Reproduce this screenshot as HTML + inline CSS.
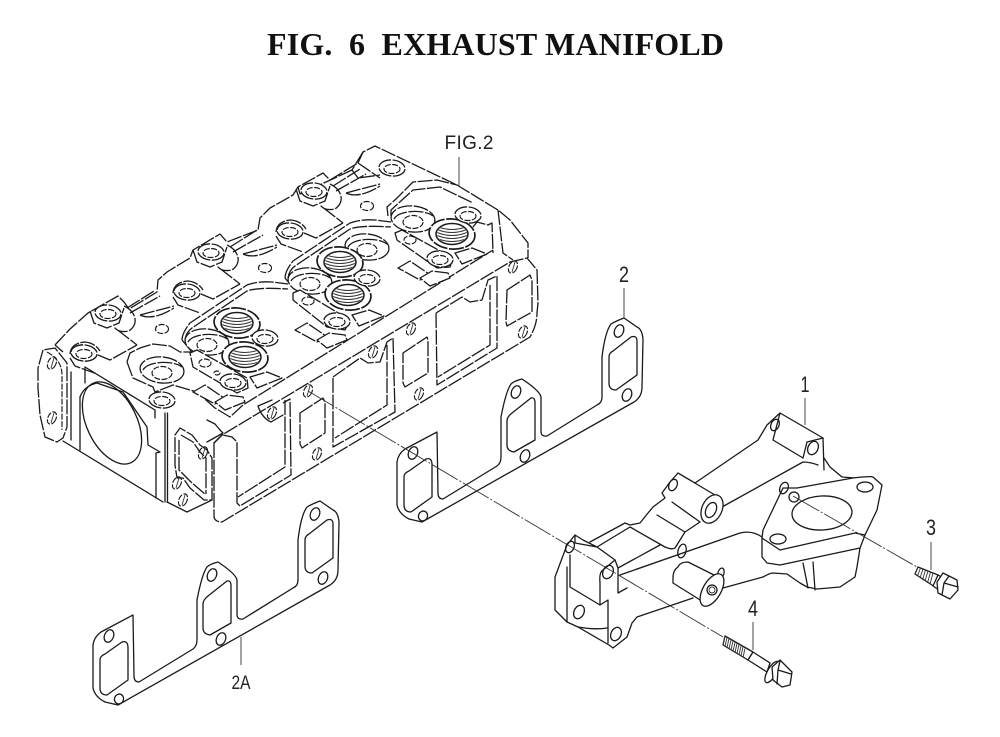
<!DOCTYPE html>
<html><head><meta charset="utf-8"><style>
html,body{margin:0;padding:0;background:#fff}
svg{display:block}
.h{fill:none;stroke:#1a1a1a;stroke-width:1.3;stroke-dasharray:15 1.6;stroke-linejoin:round}
.d{fill:none;stroke:#1a1a1a;stroke-width:1.15;stroke-dasharray:6 1.5}
.s{fill:none;stroke:#1a1a1a;stroke-width:1.3;stroke-linejoin:round;stroke-linecap:round}
.t{fill:none;stroke:#333;stroke-width:.9}
.a{fill:none;stroke:#333;stroke-width:.9;stroke-dasharray:30 2 2 2}
.w{fill:#fff;stroke:#1a1a1a;stroke-width:1.3;stroke-linejoin:round}
.wh{fill:#fff;stroke:#1a1a1a;stroke-width:1.3;stroke-linejoin:round;stroke-dasharray:15 1.6}
.l{font-family:"Liberation Sans",sans-serif;font-size:22px;fill:#222;text-anchor:middle}
</style></head><body>
<svg width="1000" height="737" viewBox="0 0 1000 737" xmlns="http://www.w3.org/2000/svg">
<defs>
<clipPath id="c"><ellipse rx="15" ry="9.5"/></clipPath>
<g id="tp"><ellipse class="wh" rx="23" ry="15" transform="rotate(6)" style="stroke-width:1.7"/><ellipse class="s" rx="16" ry="10.5" style="stroke-width:1.5"/>
<g clip-path="url(#c)" fill="none" stroke="#333" stroke-width="1"><path d="M-16-8q16 7 32 0M-16-5q16 7 32 0M-16-2q16 7 32 0M-16 1q16 7 32 0M-16 4q16 7 32 0M-16 7q16 7 32 0"/></g></g>
<g id="rg"><ellipse class="wh" rx="22" ry="13" transform="rotate(6)"/><path class="h" d="M-19 0C-14-9 11-10 20-3"/><ellipse class="d" cy="3" rx="10" ry="6.5"/></g>
<g id="sr"><ellipse class="wh" rx="13" ry="8" transform="rotate(5)"/><ellipse class="d" cy="1" rx="8" ry="4.5"/></g>
<g id="ho"><ellipse class="d" rx="4" ry="6.5" transform="rotate(25)"/><path class="t" d="M-1 5L2-5"/></g>
<g id="ru">
<path class="h" d="M193 250L197 262L210 267L222 262L227 247"/>
<path class="h" d="M227 245C238 250 243 262 232 270Q222 272 218 267L240 284"/>
<path class="h" d="M230 247L257 230M233 252L263 235M243 254Q258 250 277 245M243 254Q256 260 277 247"/>
<use href="#sr" x="211" y="252"/>
<path class="h" d="M173 293Q174 282 188 281Q198 282 203 290M201 294L213 299L240 284M173 297L178 305L200 313"/>
<use href="#sr" x="187" y="292"/>
</g>
<g id="dl">
<path class="h" d="M182 340Q182 333 190 323L247 285Q258 281 272 282L288 284"/>
<path class="h" d="M185 340Q186 331 195 326L247 291Q258 287 288 289"/>
<path class="h" d="M182 340L192 352"/>
</g>
<g id="lp">
<path class="wh" d="M193 392L205 385L224 398L215 404Z"/>
<path class="wh" d="M215 402L227 395L243 397L245 402L225 410Z"/>
<path class="wh" d="M250 377L267 372L282 378L257 388Z"/>
</g>
<g id="gk">
<path class="s" d="M133 615L101 632Q94 637 93 645L93 688Q95 697 105 702L118 705L330 585Q338 580 338 570L339 522Q338 512 333 510L320 501Q312 504 307 507Q301 515 298 540L298 580Q298 586 293 588L243 619Q237 620 237 614L237 580Q236 574 218 562Q210 564 207 567Q202 574 197 600L197 640Q197 646 193 649L139 682Q134 682 134 676Z"/>
<path class="s" d="M105 654L122 642Q128 640 128 648L128 680L107 695Q100 695 100 688L100 660Q100 656 105 654ZM208 596L227 581Q231 580 231 586L231 623L210 635Q203 634 203 628L203 604Q203 600 208 596ZM309 534L327 520Q333 518 333 524L333 558L312 573Q305 573 305 566L305 540Q305 536 309 534Z"/>
<g class="s"><ellipse cx="109" cy="636" rx="4.5" ry="6.5" transform="rotate(22 109 636)"/><ellipse cx="212" cy="575" rx="4.5" ry="6.5" transform="rotate(22 212 575)"/><ellipse cx="221" cy="639" rx="4.5" ry="6.5" transform="rotate(22 221 639)"/><ellipse cx="315" cy="514" rx="4.5" ry="6.5" transform="rotate(22 315 514)"/><ellipse cx="323" cy="578" rx="4.5" ry="6.5" transform="rotate(22 323 578)"/><ellipse cx="119" cy="699" rx="4.5" ry="5" transform="rotate(22 119 699)"/></g>
</g>
</defs>
<rect width="1000" height="737" fill="#fff"/>
<text x="267" y="55" xml:space="preserve" textLength="457" lengthAdjust="spacing" style="font-family:'Liberation Serif',serif;font-weight:bold;font-size:32px;fill:#111;white-space:pre">FIG.  6  EXHAUST MANIFOLD</text>

<!-- HEAD -->
<g>
<!-- rear ridge -->
<path class="h" d="M55 345L70 329L88 313L118 296L124 302L129 309L157 292L158 280L167 272L190 258L193 250L220 234L227 242L258 230L260 218L270 208L293 195L298 187L323 173L330 180L358 163L363 152L375 146L457 185L493 207L498 210L510 220L528 243L528 258"/>
<path class="h" d="M55 345L63 352M363 152L352 170L358 178L380 175M358 163L380 178M298 187L300 194L352 170"/>
<use href="#ru"/><use href="#ru" x="-103" y="61"/><use href="#ru" x="103" y="-61"/>
<use href="#sr" x="392" y="168"/>
<ellipse class="d" cx="162" cy="329" rx="6.5" ry="4.5"/><ellipse class="d" cx="265" cy="268" rx="6.5" ry="4.5"/><ellipse class="d" cx="367" cy="206" rx="6.5" ry="4.5"/>
<!-- decks -->
<use href="#dl"/><use href="#dl" x="103" y="-62"/>
<path class="h" d="M388 216L387 207L396 199L413 182L437 180L457 185M391 216L391 210L413 190L440 187L473 203M473 227L477 222L488 225L492 223L493 253M498 210L503 253L513 260"/>
<path class="h" d="M127 362L130 353L140 348L153 344L170 346L180 352L192 352M127 362L133 378L153 387L155 392L173 385L197 392L215 408L230 417L243 405L493 250"/>
<use href="#lp"/><use href="#lp" x="102" y="-62"/><use href="#lp" x="205" y="-124"/>
<use href="#rg" x="162" y="370"/><use href="#rg" x="207" y="342"/><use href="#rg" x="310" y="281"/><use href="#rg" x="367" y="247"/><use href="#rg" x="413" y="219"/>
<use href="#tp" x="245" y="357"/><use href="#tp" x="237" y="323"/><use href="#tp" x="340" y="262"/><use href="#tp" x="348" y="295"/><use href="#tp" x="452" y="234"/>
<use href="#sr" x="265" y="338"/><use href="#sr" x="367" y="278"/><use href="#sr" x="468" y="215"/>
<!-- plates -->
<path class="wh" d="M190 353L197 350L247 378L248 388L237 393L193 367Z"/>
<path class="wh" d="M293 293L300 290L350 320L345 330L327 327L293 300Z"/>
<path class="wh" d="M395 233L402 230L453 258L450 267L437 268L397 240Z"/>
<use href="#sr" x="233" y="382"/><use href="#sr" x="337" y="321"/><use href="#sr" x="440" y="259"/>
<ellipse class="d" cx="205" cy="363" rx="6" ry="4"/><ellipse class="d" cx="308" cy="301" rx="6" ry="4"/><ellipse class="d" cx="410" cy="240" rx="6" ry="4"/><ellipse class="d" cx="217" cy="373" rx="3" ry="2"/>
<!-- left end -->
<path class="h" d="M43 350L38 368L38 388L40 415L45 437L57 442L63 438L67 427L67 363L55 348Z"/>
<path class="d" d="M47 352Q62 360 62 375V430"/>
<use href="#ho" x="52" y="363"/><use href="#ho" x="52" y="418"/>
<path class="s" d="M63 441L163 502M167 502L187 512L212 500"/>
<path class="s" d="M80 397V450M85 367V383M85 367L155 410V418M71 372V440"/>
<use href="#sr" x="84" y="353"/><use href="#sr" x="162" y="400"/>
<path class="s" d="M80 397Q84 386 97 383L123 392L147 427L148 445L160 452L156 453V498"/>
<ellipse class="s" cx="112" cy="423" rx="25" ry="44" transform="rotate(-26 112 423)"/>
<path class="s" d="M165 413V502M167.5 413V502"/>
<path class="h" d="M175 435L180 428L192 435L200 445L207 450L212 458L212 500L204 500L190 488L183 478L177 478L175 465Z"/>
<path class="h" d="M181 435L193 442L200 452L206 458L206 494M179 440L179 470L192 483L205 494"/>
<use href="#ho" x="203" y="453"/><use href="#ho" x="177" y="483"/><use href="#ho" x="183" y="500"/>
<!-- front face -->
<path class="h" d="M214 443V517Q215 522 222 522L530 337Q537 325 537 313L538 303L537 270L527 258L510 262L222 435Z"/>
<path class="s" d="M214 443L222 435"/>
<path class="s" d="M207 420L215 424L220 430L223 433L207 442"/>
<path class="s" d="M272 400L258 406Q262 418 271 422L283 415"/>
<path class="h" d="M223 435L232 437L237 442V503L240 506L291 475L290 399L283 403M285 400V467L238 497"/>
<path class="h" d="M333 377L360 358L368 363L380 362L387 342L393 338L395 412L333 447ZM387 345V405L335 438"/>
<path class="h" d="M436 313L462 297L470 302L482 300L488 280L497 276V348L437 385ZM490 285V345L438 377"/>
<path class="h" d="M300 413L323 398L325 402V433L302 448L300 444ZM403 353L427 337L428 340V373L405 387L403 383ZM507 290L530 275L532 280V312L507 326L506 322Z"/>
<use href="#ho" x="308" y="391"/><use href="#ho" x="317" y="454"/><use href="#ho" x="373" y="352"/><use href="#ho" x="411" y="329"/><use href="#ho" x="419" y="394"/><use href="#ho" x="523" y="332"/><use href="#ho" x="513" y="267"/><use href="#ho" x="272" y="413"/>
</g>

<!-- GASKETS -->
<use href="#gk"/>
<use href="#gk" x="304" y="-183"/>

<!-- AXES -->
<path class="a" d="M308 391L723 637"/>

<!-- MANIFOLD -->
<g>
<path class="s" d="M575 535L567 545L555 577V610L567 622L578 627L609 645L613 648L627 637L632 623L637 617L693 598M575 543L575 535L583 540L597 547L615 560L618 568V593L627 588M575 543L597 547M590 542L625 523L630 525L640 523L648 513L653 507L665 498L662 493L670 482L678 473L695 483L758 440L767 425L780 413L823 438L824 470"/>
<path class="s" d="M570 555V587L600 605L608 600V643M600 605V583Q599 572 603 570L615 560M567 567V622M578 627Q595 630 607 628"/>
<path class="s" d="M620 575L740 533Q752 530 762 537M618 568L660 545M597 547L630 527L665 547Q672 550 675 548L685 532L700 522M657 515L685 532M672 502L700 522M678 473L720 498M722 507L803 462M773 440L803 458M803 462Q810 462 818 465M780 413L773 440M803 458L807 442L823 438"/>
<ellipse class="w" cx="712" cy="509" rx="10" ry="15" transform="rotate(25 712 509)"/><ellipse class="s" cx="711" cy="510" rx="5" ry="8" transform="rotate(25 711 510)"/>
<ellipse class="s" cx="813" cy="448" rx="5" ry="7" transform="rotate(25 813 448)"/><ellipse class="s" cx="775" cy="425" rx="4" ry="6" transform="rotate(25 775 425)"/><ellipse class="s" cx="673" cy="485" rx="4" ry="6" transform="rotate(25 673 485)"/><ellipse class="s" cx="570" cy="547" rx="4" ry="6" transform="rotate(25 570 547)"/><ellipse class="s" cx="608" cy="572" rx="5" ry="7" transform="rotate(25 608 572)"/><ellipse class="s" cx="682" cy="551" rx="4" ry="7" transform="rotate(15 682 551)"/><ellipse class="s" cx="579" cy="612" rx="5" ry="7" transform="rotate(25 579 612)"/><ellipse class="s" cx="616" cy="634" rx="5" ry="7" transform="rotate(25 616 634)"/><ellipse class="s" cx="721" cy="573" rx="3" ry="5" transform="rotate(15 721 573)"/>
<path class="s" d="M824 458L830 467L842 477L855 478"/>
<path class="w" d="M797 488L853 478Q870 476 873 477L882 485L877 510L865 535L855 533L780 550L762 538L763 530L783 488Z"/>
<path class="s" d="M762 538V557L767 563L780 565L860 548L865 535M860 548L857 567L855 577L840 587L817 589L807 587L800 583M723 588L763 577Q770 573 773 573L787 574L800 583M803 563L808 588M813 562L815 590"/>
<ellipse class="s" cx="822" cy="513" rx="30" ry="17" transform="rotate(-3 822 513)"/>
<ellipse class="s" cx="865" cy="487" rx="8" ry="5"/><ellipse class="s" cx="778" cy="539" rx="8" ry="5"/><ellipse class="s" cx="794" cy="497" rx="5" ry="5"/><ellipse class="s" cx="784" cy="488" rx="4" ry="6" transform="rotate(25 784 488)"/>
<path class="a" d="M793 496L917 567"/>
<path class="w" d="M673 578Q673 570 678 567Q680 562 688 562L720 578L707 605L697 598L673 583Z"/>
<ellipse class="w" cx="712" cy="590" rx="9" ry="18" transform="rotate(30 712 590)"/>
<circle class="s" cx="712" cy="590" r="5"/><circle class="t" cx="712" cy="590" r="3"/>
<path class="s" d="M723 588L740 583" style="display:none"/>
</g>

<!-- BOLT 3 -->
<g>
<path class="w" d="M918 567L938 575L935 587L915 574Z"/>
<path class="t" d="M918 567L915 574M920.500 568L917.500 576M923 569L920 578M925.500 570L922.500 580M928 571L925 581M930.500 572L927.500 583M933 573L930 584"/>
<path class="w" d="M938 575L943 578L939 590L933 586Z"/>
<path class="w" d="M943 573L957 580L958 590L950 599L938 593L937 582Z"/>
<path class="s" d="M944 583L958 587M944 583L942 595M949 576L944 583"/>
</g>
<!-- BOLT 4 -->
<g>
<path class="w" d="M725 636L753 652L748 660L723 645Z"/>
<path class="t" d="M725 636L723 645M727 637.500L725 646.500M729 638.500L727 647.500M731 640L729 649M733 641L731 650M735 642.500L733 651.500M737 643.500L735 652.500M739 644.500L737 653.500M741 646L739 655M743 647L741 656M745 648.500L743 657.500"/>
<path class="w" d="M753 652L770 663L767 672L748 660Z"/>
<ellipse class="w" cx="772" cy="672" rx="4.500" ry="12" transform="rotate(30 772 672)"/>
<path class="w" d="M780 660L792 672L790 685L782 687L773 680L772 667Z"/>
<path class="s" d="M778 670L791 674M778 670L777 684M780 661L778 670"/>
</g>

<!-- LABELS -->
<text class="l" x="469" y="149" style="font-size:19px" textLength="49" lengthAdjust="spacing">FIG.2</text>
<path class="t" d="M459 157V186M624 288V318M805 398V425M931 542V570M753 622V650M241 637V665"/>
<text class="l" x="624" y="282" textLength="10" lengthAdjust="spacingAndGlyphs">2</text>
<text class="l" x="805" y="392" textLength="9" lengthAdjust="spacingAndGlyphs">1</text>
<text class="l" x="931" y="535" textLength="10" lengthAdjust="spacingAndGlyphs">3</text>
<text class="l" x="753" y="616" textLength="10" lengthAdjust="spacingAndGlyphs">4</text>
<text class="l" x="241" y="689" style="font-size:19px" textLength="19" lengthAdjust="spacingAndGlyphs">2A</text>
</svg>
</body></html>
